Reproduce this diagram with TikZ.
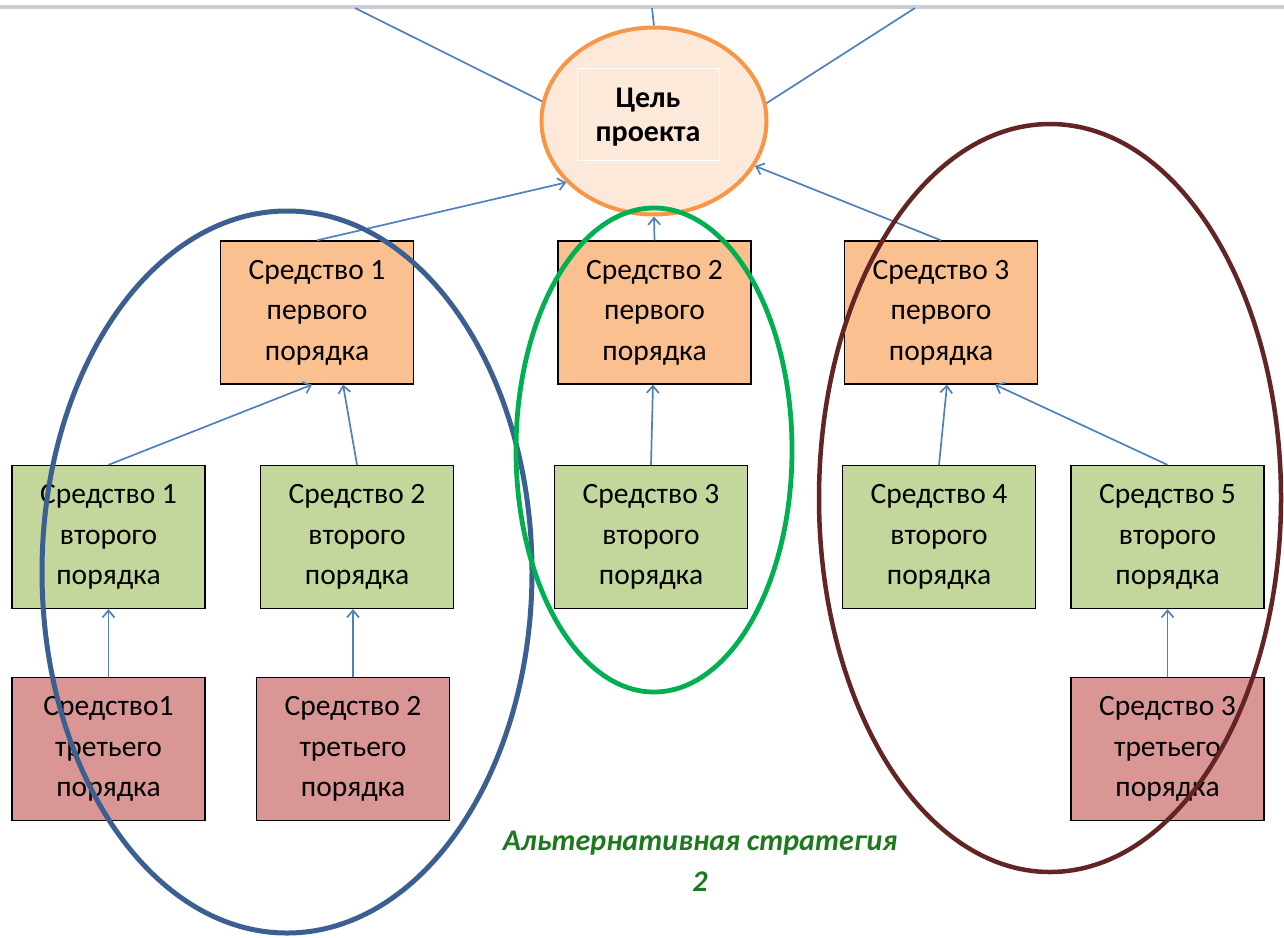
\documentclass[tikz,border=0pt]{standalone}
\usepackage{fontspec}
\setmainfont{Carlito}
\usetikzlibrary{shapes.geometric, arrows.meta}

\definecolor{linkBlue}{RGB}{79,129,189}
\definecolor{ringBlue}{RGB}{60,95,145}
\definecolor{ringGreen}{RGB}{0,176,80}
\definecolor{ringBrown}{RGB}{99,37,35}
\definecolor{goalFill}{RGB}{253,233,217}
\definecolor{goalLine}{RGB}{247,150,70}
\definecolor{fillI}{RGB}{250,192,144}
\definecolor{fillII}{RGB}{195,214,155}
\definecolor{fillIII}{RGB}{217,150,148}
\definecolor{captionGreen}{RGB}{30,120,30}

\begin{document}
\begin{tikzpicture}[x=1pt, y=-1pt, >={Straight Barb[length=7pt, width=12pt]},
    box/.style={draw=black, line width=1.3pt, minimum width=193pt, minimum height=143pt,
      align=center, font=\fontsize{29.5}{40.5}\selectfont},
    boxI/.style={box, fill=fillI},
    boxII/.style={box, fill=fillII},
    boxIII/.style={box, fill=fillIII},
    link/.style={draw=linkBlue, line width=1.7pt, ->},
    ring/.style={line width=#1}]
  \useasboundingbox (0,0) rectangle (1284,937);
  \draw[color={rgb,255:red,205;green,205;blue,212}, line width=3.5pt] (0,7) -- (1284,7);

  \node[ellipse, draw=goalLine, fill=goalFill, line width=4pt,
    minimum width=225pt, minimum height=187pt] (goal) at (654,121) {};
  \node[draw=white, line width=1pt, minimum width=142pt, minimum height=92pt,
    align=center, font=\bfseries\fontsize{30}{34}\selectfont] (goalText) at (648,114) {};
  \node[align=center, font=\bfseries\fontsize{30}{34}\selectfont] (goalLabel) at (648,117) {Цель\\проекта};

  \node[boxI] (toolI1) at (317,312.5) {Средство 1\\первого\\порядка};
  \node[boxI] (toolI2) at (654.5,312.5) {Средство 2\\первого\\порядка};
  \node[boxI] (toolI3) at (941,312.5) {Средство 3\\первого\\порядка};

  \node[boxII] (toolII1) at (108.5,537) {Средство 1\\второго\\порядка};
  \node[boxII] (toolII2) at (357,537) {Средство 2\\второго\\порядка};
  \node[boxII] (toolII3) at (651,537) {Средство 3\\второго\\порядка};
  \node[boxII] (toolII4) at (939,537) {Средство 4\\второго\\порядка};
  \node[boxII] (toolII5) at (1167.5,537) {Средство 5\\второго\\порядка};

  \node[boxIII] (toolIII1) at (108.5,749) {Средство1\\третьего\\порядка};
  \node[boxIII] (toolIII2) at (353,749) {Средство 2\\третьего\\порядка};
  \node[boxIII] (toolIII3) at (1167.5,749) {Средство 3\\третьего\\порядка};

  \coordinate (topL) at (355,8);
  \coordinate (topM) at (652,8);
  \coordinate (topR) at (915,8);
  \draw[linkBlue, line width=1.7pt] (topL) -- (goal.170);
  \draw[linkBlue, line width=1.7pt] (topM) -- (goal.90);
  \draw[linkBlue, line width=1.7pt] (topR) -- (goal.9);

  \draw[link] (toolI1.north) -- (goal.215);
  \draw[link] (toolI2.north) -- (goal.270);
  \draw[link] (toolI3.north) -- (goal.336);

  \draw[link] (toolII1.north) -- ([xshift=-5pt]toolI1.south);
  \draw[link] (toolII2.north) -- ([xshift=26pt]toolI1.south);
  \draw[link] (toolII3.north) -- ([xshift=-1.5pt]toolI2.south);
  \draw[link] (toolII4.north) -- ([xshift=6pt]toolI3.south);
  \draw[link] (toolII5.north) -- ([xshift=54pt]toolI3.south);

  \draw[link] (toolIII1.north) -- (toolII1.south);
  \draw[link] (toolIII2.north) -- ([xshift=-4pt]toolII2.south);
  \draw[link] (toolIII3.north) -- (toolII5.south);

  \draw[ring=5pt, ringBlue] (287,572) ellipse [x radius=245pt, y radius=361pt];
  \draw[ring=4.8pt, ringGreen] (654,450) ellipse [x radius=138pt, y radius=242pt];
  \draw[ring=4.5pt, ringBrown] (1050,498) ellipse [x radius=231pt, y radius=374pt];

  \node[align=center, text=captionGreen, font=\bfseries\itshape\fontsize{30}{41}\selectfont]
    (caption) at (700,861) {Альтернативная стратегия\\2};
\end{tikzpicture}
\end{document}
